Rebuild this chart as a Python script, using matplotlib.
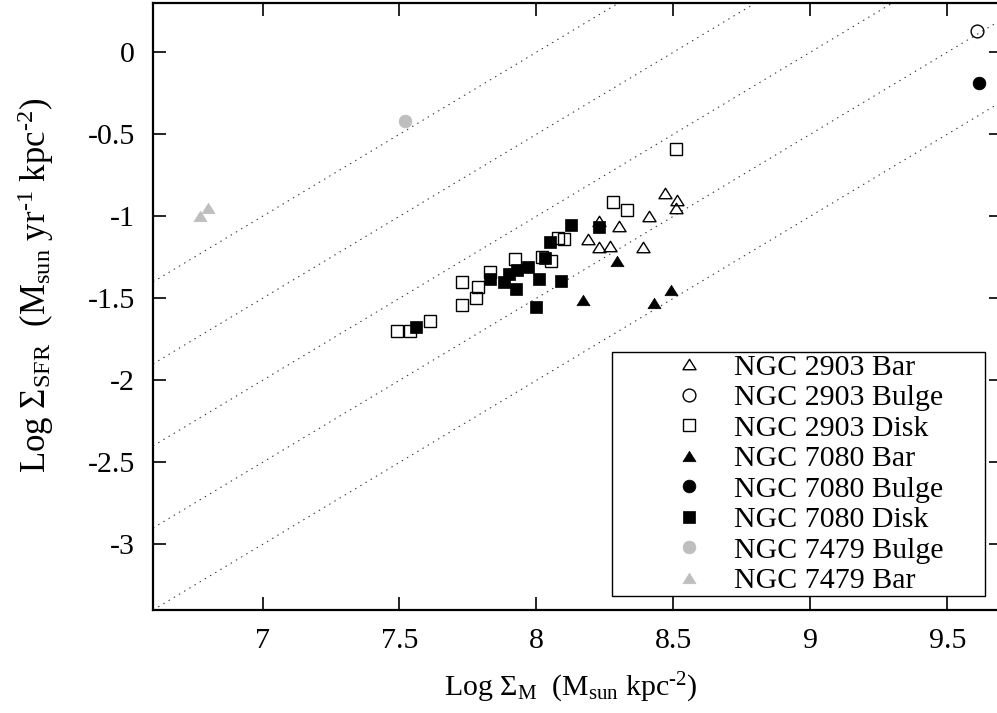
import matplotlib
matplotlib.use('Agg')
import matplotlib.pyplot as plt
from matplotlib.patches import Rectangle
from matplotlib.path import Path
from matplotlib.ticker import FuncFormatter

# NGC 2903
n2903_bar_x = [8.23, 8.30, 8.19, 8.23, 8.27, 8.39, 8.41, 8.47, 8.515, 8.51]
n2903_bar_y = [-1.03, -1.06, -1.14, -1.19, -1.18, -1.19, -1.00, -0.86, -0.90, -0.95]
n2903_bulge_x = [9.61]
n2903_bulge_y = [0.13]
n2903_disk_x = [7.49, 7.54, 7.61, 7.73, 7.785, 7.73, 7.78, 7.83, 7.92, 8.02,
                8.055, 8.08, 8.10, 8.28, 8.33, 8.51]
n2903_disk_y = [-1.70, -1.70, -1.64, -1.40, -1.43, -1.54, -1.50, -1.34, -1.26, -1.25,
                -1.27, -1.13, -1.14, -0.91, -0.96, -0.59]

# NGC 7080
n7080_bar_x = [8.295, 8.17, 8.43, 8.49]
n7080_bar_y = [-1.27, -1.51, -1.53, -1.45]
n7080_bulge_x = [9.615]
n7080_bulge_y = [-0.185]
n7080_disk_x = [7.56, 7.83, 7.88, 7.90, 7.93, 7.925, 7.97, 8.01, 8.00, 8.03,
                8.05, 8.09, 8.125, 8.23]
n7080_disk_y = [-1.675, -1.385, -1.40, -1.35, -1.33, -1.445, -1.31, -1.38, -1.555, -1.255,
                -1.155, -1.395, -1.055, -1.065]

# NGC 7479
n7479_bulge_x = [7.52]
n7479_bulge_y = [-0.42]
n7479_bar_x = [6.77, 6.80]
n7479_bar_y = [-1.00, -0.95]

# constant SFR/M lines: log SFR = log M + c
line_offsets = [-8.0, -8.5, -9.0, -9.5, -10.0]

xticks = [7, 7.5, 8, 8.5, 9, 9.5]
yticks = [0, -0.5, -1, -1.5, -2, -2.5, -3]

plt.rcParams['font.family'] = ['Liberation Serif', 'DejaVu Serif']
plt.rcParams['mathtext.fontset'] = 'custom'
plt.rcParams['mathtext.rm'] = 'Liberation Serif'
plt.rcParams['mathtext.it'] = 'Liberation Serif:italic'
plt.rcParams['axes.unicode_minus'] = False
plt.rcParams['font.size'] = 21.5

W, H = 997, 713
fig = plt.figure(figsize=(W / 100, H / 100), dpi=100)
ax = fig.add_axes([153 / W, 103 / H, (1002 - 153) / W, 607 / H])

xlo, xhi = 6.6, 9.7
for c in line_offsets:
    ax.plot([xlo, xhi], [xlo + c, xhi + c], color='#333333', lw=0.75,
            linestyle=(0, (1.4, 4.4)), zorder=1)

tri = Path([(-1, -0.8), (1, -0.8), (0, 0.8), (-1, -0.8)], closed=True)
grey = '#bebebe'
ms_sq, ms_c, ms_t = 9.0, 9.2, 9.4

ax.plot(n2903_bar_x, n2903_bar_y, ls='none', marker=tri, ms=ms_t, mfc='none',
        mec='black', mew=1.0, label='NGC 2903 Bar')
ax.plot(n2903_bulge_x, n2903_bulge_y, ls='none', marker='o', ms=ms_c, mfc='none',
        mec='black', mew=1.0, label='NGC 2903 Bulge')
ax.plot(n2903_disk_x, n2903_disk_y, ls='none', marker='s', ms=ms_sq, mfc='none',
        mec='black', mew=1.0, label='NGC 2903 Disk')
ax.plot(n7080_bar_x, n7080_bar_y, ls='none', marker=tri, ms=ms_t, mfc='black',
        mec='black', mew=0.5, label='NGC 7080 Bar')
ax.plot(n7080_bulge_x, n7080_bulge_y, ls='none', marker='o', ms=ms_c, mfc='black',
        mec='black', mew=0.5, label='NGC 7080 Bulge')
ax.plot(n7080_disk_x, n7080_disk_y, ls='none', marker='s', ms=ms_sq, mfc='black',
        mec='black', mew=0.5, label='NGC 7080 Disk')
ax.plot(n7479_bulge_x, n7479_bulge_y, ls='none', marker='o', ms=ms_c, mfc=grey,
        mec=grey, mew=0.5, label='NGC 7479 Bulge')
ax.plot(n7479_bar_x, n7479_bar_y, ls='none', marker=tri, ms=ms_t, mfc=grey,
        mec=grey, mew=0.5, label='NGC 7479 Bar')

ax.set_xlim(xlo, xhi)
ax.set_ylim(-3.4, 0.3)
ax.set_xticks(xticks)
ax.set_yticks(yticks)
fmt = FuncFormatter(lambda v, p: '%g' % v)
ax.xaxis.set_major_formatter(fmt)
ax.yaxis.set_major_formatter(fmt)
ax.tick_params(direction='in', length=9.5, width=1.2, top=True, right=True, pad=13)
for s in ax.spines.values():
    s.set_linewidth(1.6)

ax.set_xlabel(r'Log $\Sigma_{\rm M}$  (M$_{\rm sun}$ kpc$^{\text{-2}}$)')
ax.set_ylabel(r'Log $\Sigma_{\rm SFR}$  (M$_{\rm sun}$ yr$^{\text{-1}}$ kpc$^{\text{-2}}$)',
              fontsize=25)
ax.xaxis.set_label_coords((571 - 153) / (1002 - 153), -(688 - 610) / 607)
ax.yaxis.set_label_coords(-(153 - 36) / (1002 - 153), (610 - 473) / 607)
ax.xaxis.label.set_va('center')
ax.yaxis.label.set_va('center')
ax.yaxis.label.set_ha('left')

# gnuplot style key box, drawn on its own
frame = Rectangle((612 / W, (H - 596) / H), (985 - 612) / W, (596 - 352) / H,
                  transform=fig.transFigure, facecolor='white', edgecolor='black',
                  lw=1.0, zorder=4, clip_on=False)
ax.add_patch(frame)
leg = ax.legend(loc='upper left', bbox_to_anchor=(674 / W, (H - 354) / H),
                bbox_transform=fig.transFigure, frameon=False, borderpad=0,
                handlelength=1.0, handletextpad=1.0, labelspacing=0.12,
                numpoints=1, borderaxespad=0,
                prop={'family': 'Liberation Serif', 'size': 21.5})
leg.set_zorder(5)

fig.savefig('out.png', dpi=100)
